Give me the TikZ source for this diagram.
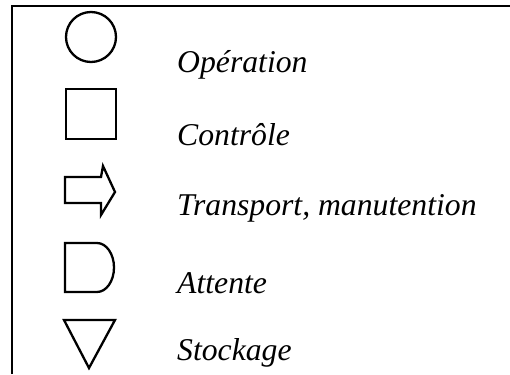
\documentclass[tikz,border=0pt]{standalone}
\usepackage{fontspec}
\setmainfont{Liberation Serif}
\begin{document}
\begin{tikzpicture}[x=1pt,y=-1pt,
  sym/.style={draw=black,line width=2.3pt,line join=miter},
  lbl/.style={anchor=base west,inner sep=0pt,font=\fontsize{31.7}{32}\selectfont\itshape}]
\useasboundingbox (0,0) rectangle (510,374);
\draw[line width=1.6pt] (12,374) -- (12,6) -- (510,6);
% symbols
\draw[sym] (91,37) circle (25);
\draw[sym] (66,89) rectangle (116,139);
\draw[sym] (65,177) -- (101,177) -- (103,166) -- (115,192) -- (101,215) -- (101,203) -- (65,203) -- cycle;
\draw[sym] (65,243) -- (97,243) arc[start angle=-90,end angle=90,x radius=17,y radius=24.5] -- (65,292) -- cycle;
\draw[sym] (64,320) -- (115,320) -- (89,368) -- cycle;
% labels
\node[lbl] (op) at (177,73) {Opération};
\node[lbl] (co) at (177,146) {Contrôle};
\node[lbl] (tr) at (177,215) {Transport, manutention};
\node[lbl] (at) at (177,293) {Attente};
\node[lbl] (st) at (177,360) {Stockage};
\end{tikzpicture}
\end{document}
